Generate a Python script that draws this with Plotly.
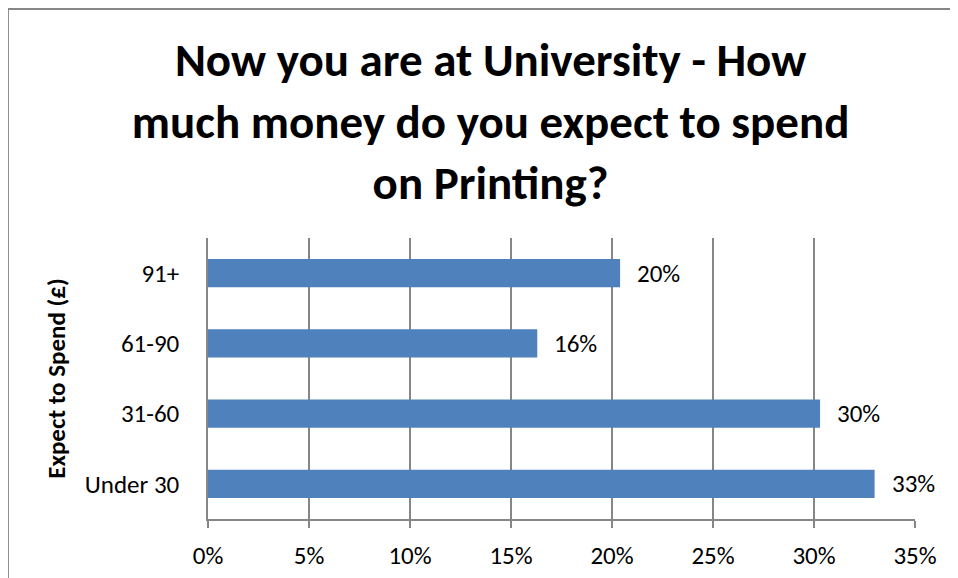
import plotly.graph_objects as go

categories = ["Under 30", "31-60", "61-90", "91+"]
values = [33.0, 30.3, 16.3, 20.4]
labels = ["33%", "30%", "16%", "20%"]
x_ticks = [0, 5, 10, 15, 20, 25, 30, 35]
x_tick_labels = ["0%", "5%", "10%", "15%", "20%", "25%", "30%", "35%"]

FONT = "Carlito, Lato, sans-serif"
GRID = "#868686"

fig = go.Figure(go.Bar(
    y=categories, x=values, orientation="h",
    marker=dict(color="#4F81BD", line=dict(width=0)),
    width=0.4, cliponaxis=False,
))

for cat, val, lab in zip(categories, values, labels):
    fig.add_annotation(x=val, y=cat, text=lab, showarrow=False,
                       xanchor="left", yanchor="middle", xshift=15,
                       font=dict(family=FONT, size=25, color="#000000"))

fig.update_layout(
    width=950, height=570,
    margin=dict(l=200, r=43, t=230, b=59, autoexpand=False),
    paper_bgcolor="white", plot_bgcolor="white",
    showlegend=False,
    title=dict(
        text="<b>Now you are at University - How<br>much money do you expect to spend<br>on Printing?</b>",
        font=dict(family=FONT, size=47, color="#000000"),
        x=0.508, xanchor="center", xref="container",
        y=0.88, yanchor="top", yref="container",
    ),
    xaxis=dict(
        range=[0, 35], tickvals=x_ticks, ticktext=x_tick_labels,
        showgrid=True, gridcolor=GRID, gridwidth=1.5,
        showline=True, linecolor=GRID, linewidth=1.5,
        ticks="outside", ticklen=7, tickcolor=GRID, tickwidth=1.5,
        tickfont=dict(family=FONT, size=25, color="#000000"),
        ticklabelstandoff=6,
        zeroline=False, fixedrange=True,
    ),
    yaxis=dict(
        categoryorder="array", categoryarray=categories,
        showline=True, linecolor=GRID, linewidth=1.5,
        ticks="", showgrid=False,
        tickfont=dict(family=FONT, size=25, color="#000000"),
        ticklabelstandoff=22,
        title=dict(text="<b>Expect to Spend (£)</b>", font=dict(family=FONT, size=25, color="#000000"), standoff=12),
        fixedrange=True,
    ),
    bargap=0.6,
)

# chart frame (left and top edges visible)
fig.add_shape(type="line", xref="paper", yref="paper", x0=-0.283, x1=2, y0=1.815, y1=1.815,
              line=dict(color=GRID, width=2))
fig.add_shape(type="line", xref="paper", yref="paper", x0=-0.283, x1=-0.283, y0=1.815, y1=-1,
              line=dict(color=GRID, width=2))

fig.write_html("out.html")
